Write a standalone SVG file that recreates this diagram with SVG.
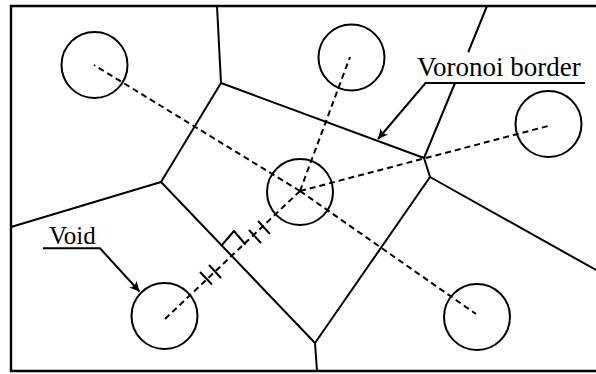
<svg xmlns="http://www.w3.org/2000/svg" width="596" height="374" viewBox="0 0 596 374">
<style>
.edge{fill:none;stroke:#000;stroke-width:2;stroke-linecap:round;stroke-linejoin:round}
.dash{fill:none;stroke:#000;stroke-width:2;stroke-dasharray:6 4}
.void{fill:none;stroke:#000;stroke-width:2}
.lead{fill:none;stroke:#000;stroke-width:2}
.lbl{font-family:"Liberation Serif","Times New Roman",serif;fill:#000}
</style>
<defs>
<marker id="arr" viewBox="-11 -6 12 12" refX="0" refY="0" markerWidth="12" markerHeight="12" markerUnits="userSpaceOnUse" orient="auto">
<path d="M0,0 L-10,-5 Q-6,0 -10,5 Z" fill="#000"/>
</marker>
</defs>
<rect width="596" height="374" fill="#fff"/>
<path d="M596,6 H11 V371 H596" fill="none" stroke="#000" stroke-width="2.4"/>
<g id="voronoi-edges">
<path class="edge" d="M217,6 L221,83 L161,182 L11,227"/>
<path class="edge" d="M221,83 L424,158 L455,83"/>
<path class="edge" d="M468.5,51.5 L487,6"/>
<path class="edge" d="M424,158 L430,177 L596,270"/>
<path class="edge" d="M430,177 L315,343 L317,371"/>
<path class="edge" d="M161,182 L315,343"/>
</g>
<g id="connectors">
<path class="dash" d="M300,191 L94,65"/>
<path class="dash" d="M300,191 L350,57"/>
<path class="dash" d="M300,191 L548,126"/>
<path class="dash" d="M300,191 L476,314"/>
<path class="dash" d="M300,191 L165,319"/>
<path class="edge" d="M221.5,245.5 L234,231 L245,244"/>
<g class="edge">
<path d="M200.5,272.5 L211.5,284"/>
<path d="M209.5,265.5 L220.5,277.5"/>
<path d="M249.5,230.5 L260.5,242.5"/>
<path d="M258.5,221.5 L269.5,233.5"/>
</g>
</g>
<g id="void-1"><circle class="void" cx="94.5" cy="65" r="33"/></g>
<g id="void-2"><circle class="void" cx="351.5" cy="57.5" r="33"/></g>
<g id="void-3"><circle class="void" cx="548.5" cy="124" r="33"/></g>
<g id="void-4"><circle class="void" cx="300" cy="192" r="33"/></g>
<g id="void-5"><circle class="void" cx="164.5" cy="316" r="33"/></g>
<g id="void-6"><circle class="void" cx="477" cy="317" r="33"/></g>
<g id="label-voronoi">
<text class="lbl" x="417" y="76" font-size="27">Voronoi border</text>
<path class="lead" d="M585,83 H425.5 L378,139" marker-end="url(#arr)"/>
</g>
<g id="label-void">
<text class="lbl" x="49" y="244" font-size="25">Void</text>
<path class="lead" d="M43,248.3 H100 L139.5,291.5" marker-end="url(#arr)"/>
</g>
</svg>
